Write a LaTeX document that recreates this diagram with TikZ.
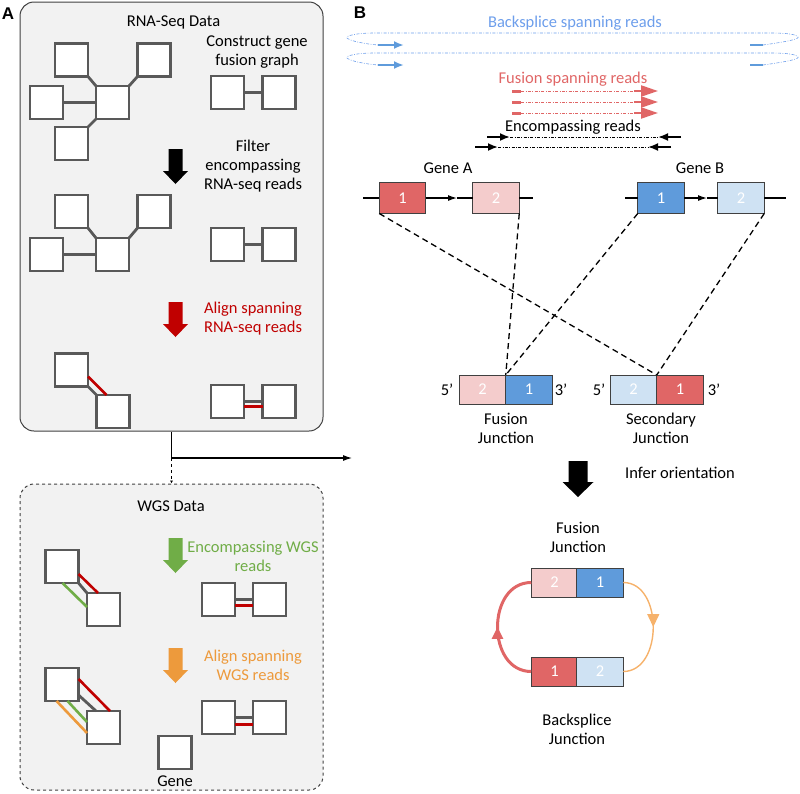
\documentclass[tikz,border=0pt]{standalone}
\usepackage{fontspec}
\setmainfont{Carlito}
\newfontfamily\lblfont{Liberation Sans}
\usetikzlibrary{arrows.meta,calc,decorations.markings}
\definecolor{boxfill}{HTML}{F2F2F2}
\definecolor{boxline}{HTML}{404040}
\definecolor{sqgray}{HTML}{595959}
\definecolor{rnared}{HTML}{C00000}
\definecolor{wgsgreen}{HTML}{70AD47}
\definecolor{wgsorange}{HTML}{ED9A3C}
\definecolor{exred}{HTML}{E06666}
\definecolor{exlred}{HTML}{F4CCCC}
\definecolor{exblue}{HTML}{5F9BDB}
\definecolor{exlblue}{HTML}{CFE2F3}
\definecolor{bsblue}{HTML}{5F9BDB}
\definecolor{bstext}{HTML}{6D9EEB}
\definecolor{arcorange}{HTML}{F6B26B}
\begin{document}
\begin{tikzpicture}[x=1pt,y=-1pt,
  font=\fontsize{16.5}{19}\selectfont,
  panel/.style={draw=boxline, line width=1pt, fill=boxfill, rounded corners=14pt},
  sq/.style={draw=sqgray, line width=2.6pt, fill=white, minimum size=33pt, inner sep=0pt, outer sep=0pt},
  link/.style={draw=sqgray, line width=2.8pt},
  rlink/.style={draw=rnared, line width=2.6pt},
  glink/.style={draw=wgsgreen, line width=2.6pt},
  olink/.style={draw=wgsorange, line width=2.6pt},
  lbl/.style={align=center, inner sep=0pt},
  exon/.style={draw=boxline, line width=0.7pt, minimum width=46.5pt, minimum height=31pt, inner sep=0pt, outer sep=0pt, text=white},
  jbox/.style={draw=boxline, line width=0.7pt, minimum width=46.5pt, minimum height=29pt, inner sep=0pt, outer sep=0pt, text=white},
  track/.style={line width=1.2pt},
  mapline/.style={line width=1.3pt, dash pattern=on 6pt off 4pt},
  readline/.style={line width=0.6pt, dash pattern=on 3pt off 1.5pt on 0.8pt off 1.5pt},
  pics/blockarr/.style={code={\fill[#1] (-7,0) -- (7,0) -- (7,22) -- (12.5,22) -- (0,35) -- (-12.5,22) -- (-7,22) -- cycle;}},
  pics/bigarr/.style={code={\fill[#1] (-9.5,0) -- (9.5,0) -- (9.5,21) -- (15.5,21) -- (0,36) -- (-15.5,21) -- (-9.5,21) -- cycle;}}
]
\useasboundingbox (0,0) rectangle (800,793);

% ---------------- Panel A ----------------
\node[panel, minimum width=303pt, minimum height=429pt] (boxA) at (171.5,216.5) {};
\node[panel, dashed, minimum width=303pt, minimum height=306pt] (boxW) at (171.5,637) {};
\node[lbl] (labA) at (8,14) {\lblfont\bfseries\fontsize{17}{19}\selectfont A};

\node[lbl] (tRNA) at (173.5,22) {RNA-Seq Data};
\node[lbl] (tcons) at (257,52.5) {Construct gene\\fusion graph};
\node[lbl] (tfilt) at (253,166.5) {Filter\\encompassing\\RNA-seq reads};
\node[lbl, text=rnared] (talign) at (253,318.5) {Align spanning\\RNA-seq reads};
\node[lbl] (tWGS) at (171,506) {WGS Data};
\node[lbl, text=wgsgreen] (tenc) at (253,556.5) {Encompassing WGS\\reads};
\node[lbl, text=wgsorange] (talw) at (253,665) {Align spanning\\WGS reads};

\pic at (175.5,149) {blockarr=black};
\pic at (175.5,302) {blockarr=rnared};
\pic at (175.5,538) {blockarr=wgsgreen};
\pic at (175.5,648) {blockarr=wgsorange};

% graph 1
\node[sq] (g1tl) at (71.5,60) {};
\node[sq] (g1tr) at (154,60) {};
\node[sq] (g1l) at (46.5,102.5) {};
\node[sq] (g1c) at (112.5,102.5) {};
\node[sq] (g1bl) at (71.5,143.5) {};
\draw[link] (g1tl.south east) -- (g1c.north west);
\draw[link] (g1tr.south west) -- (g1c.north east);
\draw[link] (g1l.east) -- (g1c.west);
\draw[link] (g1bl.north east) -- (g1c.south west);
\node[sq] (p1a) at (227.5,92.5) {};
\node[sq] (p1b) at (279,92.5) {};
\draw[link] (p1a.east) -- (p1b.west);

% graph 2
\node[sq] (g2tl) at (71.5,211.5) {};
\node[sq] (g2tr) at (154,211.5) {};
\node[sq] (g2l) at (46.5,254.5) {};
\node[sq] (g2c) at (112.5,254.5) {};
\draw[link] (g2tl.south east) -- (g2c.north west);
\draw[link] (g2tr.south west) -- (g2c.north east);
\draw[link] (g2l.east) -- (g2c.west);
\node[sq] (p2a) at (227.5,244.5) {};
\node[sq] (p2b) at (279,244.5) {};
\draw[link] (p2a.east) -- (p2b.west);

% graph 3
\node[sq] (g3u) at (71.5,370) {};
\node[sq] (g3l) at (113,411.5) {};
\draw[link] (g3u.south east) -- (g3l.north west);
\draw[rlink] ($(g3u.south east)+(0,-10)$) -- ($(g3l.north west)+(10,0)$);
\node[sq] (p3a) at (227.5,401.5) {};
\node[sq] (p3b) at (279,401.5) {};
\draw[link] (p3a.east) -- (p3b.west);
\draw[rlink] ($(p3a.east)+(0,5)$) -- ($(p3b.west)+(0,5)$);

% connectors between panels
\coordinate (bend) at (171.5,458);
\coordinate (toB) at (352,458);
\draw[line width=1.1pt, -{Latex[length=9pt,width=6pt]}] (boxA.south) |- (toB);
\draw[line width=0.8pt, dashed, -{Latex[length=3pt,width=3pt]}] (bend) -- (boxW.north);

% WGS graph 1
\node[sq] (w1u) at (62,566.5) {};
\node[sq] (w1l) at (103.5,609.5) {};
\draw[rlink] ($(w1u.south east)+(0,-9)$) -- ($(w1l.north west)+(11,0)$);
\draw[link] (w1u.south east) -- (w1l.north west);
\draw[glink] ($(w1u.south east)+(-16,0)$) -- ($(w1l.north west)+(0,14)$);
\node[sq] (wp1a) at (218.5,599.5) {};
\node[sq] (wp1b) at (269.5,599.5) {};
\draw[link] (wp1a.east) -- (wp1b.west);
\draw[rlink] ($(wp1a.east)+(0,6)$) -- ($(wp1b.west)+(0,6)$);

% WGS graph 2
\node[sq] (w2u) at (62,684.5) {};
\node[sq] (w2l) at (103.5,727.5) {};
\draw[rlink] ($(w2u.south east)+(0,-22)$) -- ($(w2l.north west)+(23,0)$);
\draw[link] ($(w2u.south east)+(0,-6)$) -- ($(w2l.north west)+(9,0)$);
\draw[glink] ($(w2u.south east)+(-11,0)$) -- ($(w2l.north west)+(0,11)$);
\draw[olink] ($(w2u.south east)+(-22,0)$) -- ($(w2l.north west)+(0,22)$);
\node[sq] (wp2a) at (218.5,717.5) {};
\node[sq] (wp2b) at (269.5,717.5) {};
\draw[link] (wp2a.east) -- (wp2b.west);
\draw[rlink] ($(wp2a.east)+(0,7)$) -- ($(wp2b.west)+(0,7)$);

\node[sq] (gene) at (175,752.5) {};
\node[lbl] (tgene) at (175,781) {Gene};

% ---------------- Panel B ----------------
\node[lbl] (labB) at (360,13) {\lblfont\bfseries\fontsize{17}{19}\selectfont B};
\node[lbl, text=bstext] (tbs) at (575,23) {Backsplice spanning reads};
\node[lbl, text=exred] (tfs) at (573,79) {Fusion spanning reads};
\node[lbl] (ten) at (573,127) {Encompassing reads};

% backsplice reads
\foreach \dy in {0,20}{
  \draw[readline, draw=bstext] (763,45+\dy) .. controls (785,42+\dy) and (800,39+\dy) .. (798,37+\dy)
     .. controls (796,34+\dy) and (785,33+\dy) .. (770,33+\dy) -- (375,33+\dy)
     .. controls (355,33+\dy) and (345,36+\dy) .. (347,38+\dy)
     .. controls (350,41+\dy) and (365,44+\dy) .. (378,45+\dy);
  \draw[bsblue, line width=2.6pt, -{Latex[length=10pt,width=8pt]}] (378,45+\dy) -- (404,45+\dy);
  \draw[bsblue, line width=2.8pt] (750,45+\dy) -- (763,45+\dy);
}

% fusion spanning reads
\foreach \yy in {91,102,113}{
  \draw[exred, line width=3pt] (512,\yy) -- (521,\yy);
  \draw[readline, draw=exred] (521,\yy) -- (640,\yy);
  \draw[exred, line width=2.2pt, -{Triangle[length=17pt,width=11pt]}] (634,\yy) -- (658,\yy);
}

% encompassing reads
\draw[line width=1.8pt, -{Latex[length=10pt,width=8pt]}] (487,137) -- (510,137);
\draw[readline] (510,137) -- (658,137);
\draw[line width=1.8pt, -{Latex[length=10pt,width=8pt]}] (681,137) -- (658,137);
\draw[line width=1.8pt, -{Latex[length=10pt,width=8pt]}] (475,147) -- (498,147);
\draw[readline] (498,147) -- (648,147);
\draw[line width=1.8pt, -{Latex[length=10pt,width=8pt]}] (671,147) -- (648,147);

% genes
\node[lbl] (tga) at (448,168) {Gene A};
\node[lbl] (tgb) at (700,168) {Gene B};
\node[exon, fill=exred] (ga1) at (402.5,198) {1};
\node[exon, fill=exlred] (ga2) at (496,198) {2};
\node[exon, fill=exblue] (gb1) at (661,198) {1};
\node[exon, fill=exlblue] (gb2) at (741,198) {2};
\coordinate (gas) at (363,198);
\coordinate (gae) at (533,198);
\coordinate (gbs) at (625,198);
\coordinate (gbe) at (786,198);
\coordinate (gam) at (457,198);
\coordinate (gbm) at (707,198);
\draw[track] (gas) -- (ga1.west);
\draw[track] (ga2.east) -- (gae);
\draw[track, -{Latex[length=9pt,width=6pt]}] (ga1.east) -- (gam);
\draw[track] (gam) -- (ga2.west);
\draw[track] (gbs) -- (gb1.west);
\draw[track] (gb2.east) -- (gbe);
\draw[track, -{Latex[length=9pt,width=6pt]}] (gb1.east) -- (gbm);
\draw[track] (gbm) -- (gb2.west);

% junctions
\node[jbox, fill=exlred] (fj2) at (482.5,389.5) {2};
\node[jbox, fill=exblue] (fj1) at (529,389.5) {1};
\node[jbox, fill=exlblue] (sj2) at (633.5,389.5) {2};
\node[jbox, fill=exred] (sj1) at (680,389.5) {1};
\node[lbl] (f5) at (447,390) {5’};
\node[lbl] (f3) at (561,390) {3’};
\node[lbl] (s5) at (599,390) {5’};
\node[lbl] (s3) at (714,390) {3’};
\node[lbl] (tfj) at (506,428.5) {Fusion\\Junction};
\node[lbl] (tsj) at (661,428.5) {Secondary\\Junction};

\draw[mapline] (ga1.south west) -- (sj2.north east);
\draw[mapline] (ga2.south east) -- (fj2.north east);
\draw[mapline] (gb1.south west) -- (fj1.north west);
\draw[mapline] (gb2.south east) -- (sj1.north west);

% infer orientation
\pic at (578,461) {bigarr=black};
\node[lbl] (tinf) at (680,473) {Infer orientation};
\node[lbl] (tfj2) at (578,537.5) {Fusion\\Junction};
\node[jbox, fill=exlred] (c2) at (554.5,582.5) {2};
\node[jbox, fill=exblue] (c1) at (600,582.5) {1};
\node[jbox, fill=exred] (b1) at (554.5,671.5) {1};
\node[jbox, fill=exlblue] (b2) at (600,671.5) {2};
\node[lbl] (tbj) at (577,729.5) {Backsplice\\Junction};

\draw[exred, line width=3pt, postaction={decorate},
  decoration={markings, mark=at position 0.5 with {\arrow{Triangle[length=12pt,width=11pt]}}}]
  (b1.west) .. controls +(-45,0) and +(-45,0) .. (c2.west);
\draw[arcorange, line width=1.4pt, postaction={decorate},
  decoration={markings, mark=at position 0.5 with {\arrow{Triangle[length=13pt,width=12pt]}}}]
  (c1.east) .. controls +(40,0) and +(40,0) .. (b2.east);
\end{tikzpicture}
\end{document}
